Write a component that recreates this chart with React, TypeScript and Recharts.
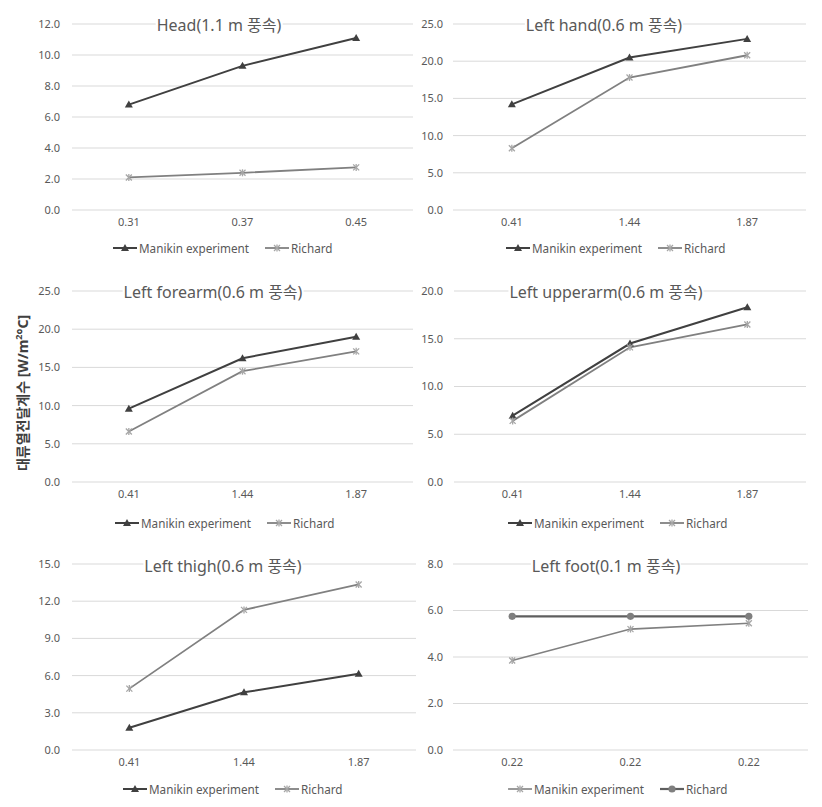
import React from 'react';
import { LineChart, Line, XAxis, YAxis, CartesianGrid, Legend } from 'recharts';

// ---------- data ----------
const headSpeeds = ['0.31', '0.37', '0.45'];
const headManikin = [6.8, 9.3, 11.1];
const headRichard = [2.1, 2.4, 2.75];
const headTicks = [0, 2, 4, 6, 8, 10, 12];

const armSpeeds = ['0.41', '1.44', '1.87'];
const handManikin = [14.2, 20.5, 23.0];
const handRichard = [8.3, 17.8, 20.8];
const handTicks = [0, 5, 10, 15, 20, 25];

const forearmManikin = [9.6, 16.2, 19.0];
const forearmRichard = [6.6, 14.5, 17.1];
const forearmTicks = [0, 5, 10, 15, 20, 25];

const upperarmManikin = [6.95, 14.5, 18.3];
const upperarmRichard = [6.4, 14.1, 16.5];
const upperarmTicks = [0, 5, 10, 15, 20];

const thighManikin = [1.8, 4.65, 6.15];
const thighRichard = [4.95, 11.3, 13.35];
const thighTicks = [0, 3, 6, 9, 12, 15];

const footSpeeds = ['0.22', '0.22', '0.22'];
const footManikin = [3.85, 5.2, 5.45];
const footRichard = [5.75, 5.75, 5.75];
const footTicks = [0, 2, 4, 6, 8];

const titles = [
  'Head(1.1 m 풍속)',
  'Left hand(0.6 m 풍속)',
  'Left forearm(0.6 m 풍속)',
  'Left upperarm(0.6 m 풍속)',
  'Left thigh(0.6 m 풍속)',
  'Left foot(0.1 m 풍속)',
];
const seriesNames = ['Manikin experiment', 'Richard'];

// ---------- styles ----------
const FONT = "'Noto Sans', 'Noto Sans CJK KR', sans-serif";
const TICK_COLOR = '#595959';
const GRID_COLOR = '#d9d9d9';

type MarkerKind = 'triangle' | 'star' | 'circle';

function MarkerShape({ kind, cx, cy, color }: { kind: MarkerKind; cx: number; cy: number; color: string }) {
  if (kind === 'triangle') {
    return <path d={`M${cx},${cy - 4} L${cx + 4},${cy + 3} L${cx - 4},${cy + 3} Z`} fill={color} />;
  }
  if (kind === 'star') {
    return (
      <g stroke={color} strokeWidth={1.3}>
        <line x1={cx - 3} y1={cy - 3} x2={cx + 3} y2={cy + 3} />
        <line x1={cx - 3} y1={cy + 3} x2={cx + 3} y2={cy - 3} />
        <line x1={cx} y1={cy - 3.5} x2={cx} y2={cy + 3.5} />
      </g>
    );
  }
  return <circle cx={cx} cy={cy} r={3.6} fill={color} />;
}

type SeriesStyle = {
  lineColor: string;
  lineWidth: number;
  marker: MarkerKind;
  markerColor: string;
};

const manikinStyle: SeriesStyle = { lineColor: '#404040', lineWidth: 2, marker: 'triangle', markerColor: '#404040' };
const richardStyle: SeriesStyle = { lineColor: '#808080', lineWidth: 1.8, marker: 'star', markerColor: '#a6a6a6' };
const footManikinStyle: SeriesStyle = { lineColor: '#808080', lineWidth: 1.6, marker: 'star', markerColor: '#a6a6a6' };
const footRichardStyle: SeriesStyle = { lineColor: '#5f5f5f', lineWidth: 2.2, marker: 'circle', markerColor: '#7f7f7f' };

type PanelProps = {
  title: string;
  speeds: string[];
  manikin: number[];
  richard: number[];
  ticks: number[];
  styles: [SeriesStyle, SeriesStyle];
  frameLeft: number;
  frameTop: number;
  frameHeight: number;
  plotLeft: number;
  plotRight: number;
  plotTop: number;
  plotBottom: number;
  yGap: number;
  titleX: number;
  titleY: number;
  legendX: number;
  legendY: number;
};

function Panel(p: PanelProps) {
  const data = p.speeds.map((s, i) => ({ idx: i, speed: s, manikin: p.manikin[i], richard: p.richard[i] }));
  const xAxisHeight = 30;
  const rightMargin = 4;
  const width = p.plotRight - p.frameLeft + rightMargin;
  const margin = {
    top: p.plotTop - p.frameTop,
    right: rightMargin,
    left: 0,
    bottom: p.frameHeight - (p.plotBottom - p.frameTop) - xAxisHeight,
  };
  const keys = ['manikin', 'richard'];

  const legendContent = () => (
    <div
      style={{
        display: 'flex',
        alignItems: 'center',
        gap: 16,
        fontFamily: FONT,
        fontSize: 11.7,
        color: TICK_COLOR,
        whiteSpace: 'nowrap',
        lineHeight: '16px',
      }}
    >
      {keys.map((k, i) => {
        const st = p.styles[i];
        return (
          <div key={k} style={{ display: 'flex', alignItems: 'center' }}>
            <svg width={24} height={10} style={{ display: 'block' }}>
              <line x1={0} y1={5} x2={24} y2={5} stroke={st.lineColor} strokeWidth={st.lineWidth} />
              <MarkerShape kind={st.marker} cx={12} cy={5} color={st.markerColor} />
            </svg>
            <span style={{ marginLeft: 2 }}>{seriesNames[i]}</span>
          </div>
        );
      })}
    </div>
  );

  return (
    <>
      <div style={{ position: 'absolute', left: p.frameLeft, top: p.frameTop }}>
        <LineChart width={width} height={p.frameHeight} data={data} margin={margin}>
          <CartesianGrid vertical={false} stroke={GRID_COLOR} strokeWidth={1} />
          <XAxis
            dataKey="idx"
            type="category"
            scale="band"
            axisLine={false}
            tickLine={false}
            height={xAxisHeight}
            tickFormatter={(i: number) => p.speeds[i]}
            tick={{ fill: TICK_COLOR, fontSize: 11, fontFamily: FONT }}
            interval={0}
          />
          <YAxis
            type="number"
            domain={[p.ticks[0], p.ticks[p.ticks.length - 1]]}
            ticks={p.ticks}
            width={p.plotLeft - p.frameLeft}
            axisLine={false}
            tickLine={false}
            tickSize={0}
            tickMargin={p.yGap}
            tickFormatter={(v: number) => v.toFixed(1)}
            tick={{ fill: TICK_COLOR, fontSize: 11, fontFamily: FONT }}
          />
          <Legend
            layout="horizontal"
            verticalAlign="middle"
            align="center"
            content={legendContent}
            wrapperStyle={{ left: p.legendX - p.frameLeft, top: p.legendY - p.frameTop - 8, width: 'auto', height: 16 }}
          />
          {keys.map((k, i) => {
            const st = p.styles[i];
            return (
              <Line
                key={k}
                dataKey={k}
                name={seriesNames[i]}
                stroke={st.lineColor}
                strokeWidth={st.lineWidth}
                isAnimationActive={false}
                dot={(d: any) => (
                  <MarkerShape key={`${k}-${d.index}`} kind={st.marker} cx={d.cx} cy={d.cy} color={st.markerColor} />
                )}
                activeDot={false}
              />
            );
          })}
        </LineChart>
      </div>
      <div
        style={{
          position: 'absolute',
          left: p.titleX,
          top: p.titleY,
          transform: 'translate(-50%, -50%)',
          fontFamily: FONT,
          fontSize: 16,
          color: '#595959',
          background: '#fff',
          whiteSpace: 'nowrap',
          lineHeight: '20px',
          padding: '0 1px',
        }}
      >
        {p.title}
      </div>
    </>
  );
}

export default function App() {
  return (
    <div
      style={{
        position: 'absolute',
        left: 0,
        top: 0,
        width: 822,
        height: 807,
        background: '#fff',
        overflow: 'hidden',
        fontFamily: FONT,
      }}
    >
      <Panel
        title={titles[0]} speeds={headSpeeds} manikin={headManikin} richard={headRichard} ticks={headTicks}
        styles={[manikinStyle, richardStyle]}
        frameLeft={0} frameTop={0} frameHeight={270}
        plotLeft={72} plotRight={413} plotTop={24} plotBottom={210} yGap={12}
        titleX={219} titleY={25} legendX={113} legendY={248}
      />
      <Panel
        title={titles[1]} speeds={armSpeeds} manikin={handManikin} richard={handRichard} ticks={handTicks}
        styles={[manikinStyle, richardStyle]}
        frameLeft={411} frameTop={0} frameHeight={270}
        plotLeft={453} plotRight={806} plotTop={24} plotBottom={210} yGap={10}
        titleX={604} titleY={25} legendX={506} legendY={248}
      />
      <Panel
        title={titles[2]} speeds={armSpeeds} manikin={forearmManikin} richard={forearmRichard} ticks={forearmTicks}
        styles={[manikinStyle, richardStyle]}
        frameLeft={0} frameTop={270} frameHeight={270}
        plotLeft={72} plotRight={413} plotTop={291} plotBottom={482} yGap={12}
        titleX={213} titleY={292} legendX={115} legendY={523}
      />
      <Panel
        title={titles[3]} speeds={armSpeeds} manikin={upperarmManikin} richard={upperarmRichard} ticks={upperarmTicks}
        styles={[manikinStyle, richardStyle]}
        frameLeft={411} frameTop={270} frameHeight={270}
        plotLeft={454} plotRight={806} plotTop={291} plotBottom={482} yGap={11}
        titleX={606} titleY={292} legendX={508} legendY={523}
      />
      <Panel
        title={titles[4]} speeds={armSpeeds} manikin={thighManikin} richard={thighRichard} ticks={thighTicks}
        styles={[manikinStyle, richardStyle]}
        frameLeft={0} frameTop={540} frameHeight={267}
        plotLeft={72} plotRight={416} plotTop={564} plotBottom={750} yGap={12}
        titleX={223} titleY={566} legendX={123} legendY={789}
      />
      <Panel
        title={titles[5]} speeds={footSpeeds} manikin={footManikin} richard={footRichard} ticks={footTicks}
        styles={[footManikinStyle, footRichardStyle]}
        frameLeft={411} frameTop={540} frameHeight={267}
        plotLeft={453} plotRight={808} plotTop={564} plotBottom={750} yGap={10}
        titleX={606} titleY={566} legendX={508} legendY={789}
      />
      <div
        style={{
          position: 'absolute',
          left: 23,
          top: 393,
          transform: 'translate(-50%, -50%) rotate(-90deg)',
          fontFamily: FONT,
          fontSize: 14,
          fontWeight: 700,
          color: '#404040',
          whiteSpace: 'nowrap',
          lineHeight: '20px',
        }}
      >
        대류열전달계수 [W/m<sup style={{ fontSize: 9, verticalAlign: 'super', lineHeight: 0 }}>2</sup>°C]
      </div>
    </div>
  );
}
